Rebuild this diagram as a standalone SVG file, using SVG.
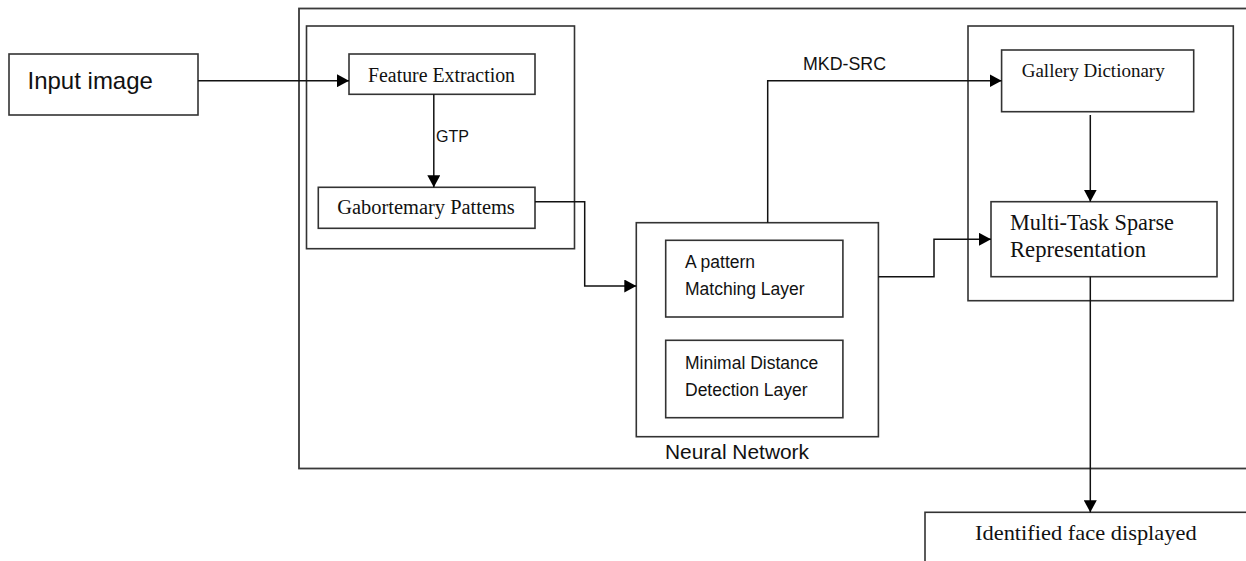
<svg xmlns="http://www.w3.org/2000/svg" width="1246" height="561" viewBox="0 0 1246 561">
  <style>
    .box { fill: none; stroke: #333; stroke-width: 1.6; }
    .frame { fill: none; stroke: #3a3a3a; stroke-width: 1.8; }
    .wire { fill: none; stroke: #111; stroke-width: 1.5; }
    .sans { font-family: "Liberation Sans", Arial, sans-serif; fill: #111; }
    .serif { font-family: "Liberation Serif", "Times New Roman", serif; fill: #111; }
  </style>
  <defs>
    <marker id="arrow" markerUnits="userSpaceOnUse" markerWidth="13" markerHeight="13" refX="12" refY="6.5" orient="auto">
      <path d="M0,0 L12,6.5 L0,13 z" fill="#000"/>
    </marker>
  </defs>

  <rect width="1246" height="561" fill="#fff"/>

  <!-- enclosing system frame and sub-frames -->
  <g id="system-frame">
    <rect class="frame" x="299" y="8.5" width="960" height="460"/>
  </g>
  <g id="extraction-frame">
    <rect class="box" x="306.5" y="26" width="268" height="222.7"/>
  </g>
  <g id="classifier-frame">
    <rect class="box" x="968" y="26" width="265.3" height="274.7"/>
  </g>

  <g id="input-image">
    <rect class="box" x="9" y="54" width="189" height="61"/>
    <text class="sans" x="27.5" y="89" font-size="24">Input image</text>
  </g>

  <g id="feature-extraction">
    <rect class="box" x="349" y="54" width="186" height="40.3"/>
    <text class="serif" x="368" y="81.7" font-size="20" textLength="147" lengthAdjust="spacingAndGlyphs">Feature Extraction</text>
  </g>

  <g id="gabor-patterns">
    <rect class="box" x="318.3" y="187.3" width="216.7" height="41"/>
    <text class="serif" x="337.3" y="214.3" font-size="20" textLength="177.5" lengthAdjust="spacingAndGlyphs">Gabortemary Pattems</text>
  </g>

  <g id="neural-network">
    <rect class="box" x="636.3" y="222.7" width="242.1" height="214"/>
    <text class="sans" x="665" y="459" font-size="20" textLength="144" lengthAdjust="spacingAndGlyphs">Neural Network</text>
  </g>

  <g id="pattern-matching-layer">
    <rect class="box" x="665.7" y="240.3" width="177.2" height="76.7"/>
    <text class="sans" x="685" y="268.3" font-size="17.5">A pattern</text>
    <text class="sans" x="685" y="295" font-size="17.5">Matching Layer</text>
  </g>

  <g id="distance-layer">
    <rect class="box" x="665.7" y="340.3" width="177.2" height="77.4"/>
    <text class="sans" x="685" y="369" font-size="17.5">Minimal Distance</text>
    <text class="sans" x="685" y="395.7" font-size="17.5">Detection Layer</text>
  </g>

  <g id="gallery-dictionary">
    <rect class="box" x="1001.6" y="50" width="192.1" height="61.7"/>
    <text class="serif" x="1021.7" y="76.7" font-size="19.3" textLength="143" lengthAdjust="spacingAndGlyphs">Gallery Dictionary</text>
  </g>

  <g id="sparse-representation">
    <rect class="box" x="991" y="201.7" width="226" height="75"/>
    <text class="serif" x="1010" y="230" font-size="22.3" textLength="164" lengthAdjust="spacingAndGlyphs">Multi-Task Sparse</text>
    <text class="serif" x="1010" y="256.7" font-size="22.3" textLength="136" lengthAdjust="spacingAndGlyphs">Representation</text>
  </g>

  <g id="identified-face">
    <rect class="box" x="925" y="512.3" width="400" height="100"/>
    <text class="serif" x="975" y="540" font-size="22" textLength="221.7" lengthAdjust="spacingAndGlyphs">Identified face displayed</text>
  </g>

  <!-- connectors -->
  <g id="connectors">
    <path class="wire" d="M198,80.7 H349" marker-end="url(#arrow)"/>
    <path class="wire" d="M433.8,94.3 V187.3" marker-end="url(#arrow)"/>
    <path class="wire" d="M535,201.7 H584.7 V286 H636.3" marker-end="url(#arrow)"/>
    <path class="wire" d="M767.7,222.7 V80.7 H1001.6" marker-end="url(#arrow)"/>
    <path class="wire" d="M878.4,276.7 H934 V239.3 H991" marker-end="url(#arrow)"/>
    <path class="wire" d="M1090.3,115 V201.7" marker-end="url(#arrow)"/>
    <path class="wire" d="M1090.3,276.7 V512.3" marker-end="url(#arrow)"/>
  </g>

  <g id="connector-labels">
    <text class="sans" x="436" y="142" font-size="17" textLength="33" lengthAdjust="spacingAndGlyphs">GTP</text>
    <text class="sans" x="803" y="70" font-size="17.6" textLength="83" lengthAdjust="spacingAndGlyphs">MKD-SRC</text>
  </g>
</svg>
